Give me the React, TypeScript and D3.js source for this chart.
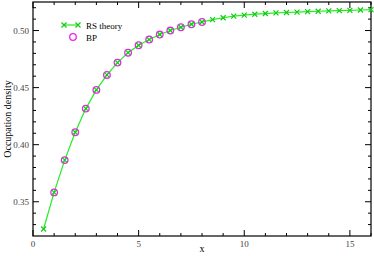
import React, { useEffect, useRef } from 'react';
import * as d3 from 'd3';

const rsX = [0.5, 1, 1.5, 2, 2.5, 3, 3.5, 4, 4.5, 5, 5.5, 6, 6.5, 7, 7.5, 8, 8.5, 9, 9.5, 10, 10.5, 11, 11.5, 12, 12.5, 13, 13.5, 14, 14.5, 15, 15.5, 16];
const rsY = [0.3261, 0.3582, 0.3865, 0.4109, 0.4316, 0.448, 0.4611, 0.4719, 0.4806, 0.4871, 0.4921, 0.4965, 0.5, 0.5029, 0.5055, 0.5075, 0.5095, 0.5112, 0.5126, 0.5135, 0.5143, 0.5149, 0.5155, 0.5158, 0.5161, 0.5166, 0.5169, 0.5172, 0.5175, 0.5177, 0.518, 0.5183];
const bpX = [1, 1.5, 2, 2.5, 3, 3.5, 4, 4.5, 5, 5.5, 6, 6.5, 7, 7.5, 8];
const bpY = [0.3582, 0.3865, 0.4109, 0.4316, 0.448, 0.4611, 0.4719, 0.4806, 0.4871, 0.4921, 0.4965, 0.5, 0.5029, 0.5055, 0.5075];
const xTicks = [0, 5, 10, 15];
const yTicks = [0.35, 0.4, 0.45, 0.5];

function App() {
  const svgRef = useRef<SVGSVGElement>(null);

  useEffect(() => {
    const svg = d3.select(svgRef.current);
    svg.selectAll('*').remove();

    const width = 374;
    const height = 256;
    const margin = { top: 2, right: 3, bottom: 20, left: 33 };
    const innerW = width - margin.left - margin.right;
    const innerH = height - margin.top - margin.bottom;

    const x = d3.scaleLinear().domain([0, 16]).range([0, innerW]);
    const y = d3.scaleLinear().domain([0.32, 0.525]).range([innerH, 0]);

    const g = svg.append('g').attr('transform', `translate(${margin.left},${margin.top})`);

    const green = '#22ee22';
    const magenta = '#ee22ee';
    const tickColor = '#444';

    // minor + major ticks on all four sides, pointing inward
    const xMinor = d3.range(0, 17, 1);
    const yMinor = d3.range(0.33, 0.525, 0.01);
    const tickG = g.append('g').attr('stroke', '#000').attr('stroke-width', 1);
    xMinor.forEach((v) => {
      const major = xTicks.includes(v);
      const len = major ? 6 : 3;
      tickG.append('line').attr('x1', x(v)).attr('x2', x(v)).attr('y1', innerH).attr('y2', innerH - len);
      tickG.append('line').attr('x1', x(v)).attr('x2', x(v)).attr('y1', 0).attr('y2', len);
    });
    yMinor.forEach((v) => {
      const major = yTicks.some((t) => Math.abs(t - v) < 1e-6);
      const len = major ? 6 : 3;
      tickG.append('line').attr('x1', 0).attr('x2', len).attr('y1', y(v)).attr('y2', y(v));
      tickG.append('line').attr('x1', innerW).attr('x2', innerW - len).attr('y1', y(v)).attr('y2', y(v));
    });

    g.append('rect')
      .attr('width', innerW)
      .attr('height', innerH)
      .attr('fill', 'none')
      .attr('stroke', '#000')
      .attr('stroke-width', 1.2);

    // tick labels
    g.selectAll('.xl')
      .data(xTicks)
      .enter()
      .append('text')
      .attr('x', (d) => x(d))
      .attr('y', innerH + 11)
      .attr('text-anchor', 'middle')
      .attr('font-family', 'Liberation Serif')
      .attr('font-size', 9)
      .attr('fill', tickColor)
      .text((d) => d);

    g.selectAll('.yl')
      .data(yTicks)
      .enter()
      .append('text')
      .attr('x', -4)
      .attr('y', (d) => y(d) + 3)
      .attr('text-anchor', 'end')
      .attr('font-family', 'Liberation Serif')
      .attr('font-size', 9)
      .attr('fill', tickColor)
      .text((d) => d.toFixed(2));

    // axis titles
    svg.append('text')
      .attr('x', margin.left + x(8))
      .attr('y', 252)
      .attr('text-anchor', 'middle')
      .attr('font-family', 'Liberation Serif')
      .attr('font-size', 10)
      .text('x');

    svg.append('text')
      .attr('transform', `translate(11,${margin.top + innerH / 2}) rotate(-90)`)
      .attr('text-anchor', 'middle')
      .attr('font-family', 'Liberation Serif')
      .attr('font-size', 10)
      .text('Occupation density');

    // RS theory line
    const rs = rsX.map((v, i) => [v, rsY[i]] as [number, number]);
    const line = d3.line<[number, number]>().x((d) => x(d[0])).y((d) => y(d[1]));
    g.append('path').datum(rs).attr('d', line).attr('fill', 'none').attr('stroke', green).attr('stroke-width', 1.2);

    // BP circles
    g.selectAll('.bp')
      .data(bpX.map((v, i) => [v, bpY[i]]))
      .enter()
      .append('circle')
      .attr('cx', (d) => x(d[0]))
      .attr('cy', (d) => y(d[1]))
      .attr('r', 3.3)
      .attr('fill', 'none')
      .attr('stroke', magenta)
      .attr('stroke-width', 1.3);

    // x markers
    const cross = 2.5;
    const drawCross = (sel: any, cx: number, cy: number) => {
      sel.append('path')
        .attr('d', `M${cx - cross},${cy - cross}L${cx + cross},${cy + cross}M${cx - cross},${cy + cross}L${cx + cross},${cy - cross}`)
        .attr('stroke', '#11cc11')
        .attr('stroke-width', 1.2);
    };
    rs.forEach((d) => drawCross(g, x(d[0]), y(d[1])));

    // legend
    const lg = svg.append('g');
    lg.append('line').attr('x1', 63).attr('x2', 78).attr('y1', 25).attr('y2', 25).attr('stroke', green).attr('stroke-width', 1.2);
    drawCross(lg, 64, 25);
    drawCross(lg, 78, 25);
    lg.append('text').attr('x', 86).attr('y', 28.5).attr('font-family', 'Liberation Serif').attr('font-size', 9).text('RS theory');
    lg.append('circle').attr('cx', 73).attr('cy', 37).attr('r', 3.3).attr('fill', 'none').attr('stroke', magenta).attr('stroke-width', 1.3);
    lg.append('text').attr('x', 86).attr('y', 40.5).attr('font-family', 'Liberation Serif').attr('font-size', 9).text('BP');

    return () => {
      svg.selectAll('*').remove();
    };
  }, []);

  return (
    <svg
      ref={svgRef}
      width={374}
      height={256}
      style={{ position: 'absolute', left: 0, top: 0, background: '#fff' }}
    ></svg>
  );
}

export default App;
